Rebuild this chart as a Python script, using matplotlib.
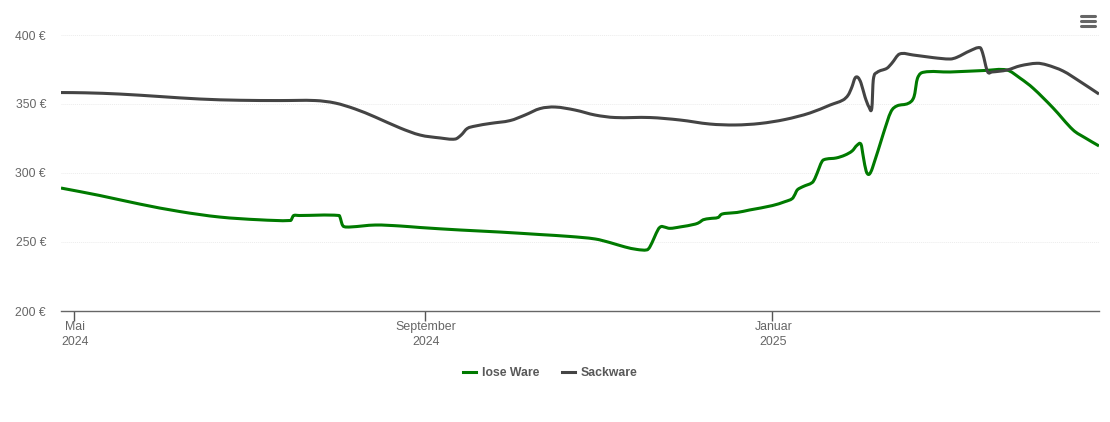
import matplotlib
matplotlib.use("Agg")
import matplotlib.pyplot as plt
import matplotlib.dates as mdates
import matplotlib.transforms as mtransforms
import pandas as pd
from matplotlib.lines import Line2D
from matplotlib.patches import PathPatch
from matplotlib.path import Path

# Tage seit dem 1. Mai 2024, Preise in Euro
startDate = pd.Timestamp("2024-05-01")

looseDays = [-4.6, 9, 23, 37, 51, 65, 76, 76.5, 77, 79, 93, 93.5, 94, 94.6, 97,
             105.6, 114.4, 121.4, 135.4, 149.5, 163.5, 174, 182.8, 188, 193.3,
             197.5, 201, 202, 203.5, 205, 206, 207, 209, 212.6, 218, 219.6,
             220.7, 223, 226, 227, 228.4, 232.6, 237, 245, 249.5, 252, 253,
             253.7, 255.8, 259, 260, 261.4, 262.5, 263.9, 267.4, 270.5, 273,
             274.7, 276.1, 276.9, 277.9, 278.9, 280.1, 284, 286.6, 288.7, 292.7,
             294.7, 295.9, 298, 307.4, 319.6, 327.3, 332, 336.5, 343.5, 350.5,
             354.8, 359.6]
loosePrices = [289.1, 283.7, 277.5, 272.1, 268.1, 266.1, 265.6, 267.4, 269.2,
               269.2, 269.2, 266.7, 263, 261.2, 260.9, 262.3, 261.6, 260.5,
               258.7, 257.2, 255.4, 254, 252.2, 249.6, 246.4, 244.6, 244.3,
               246.4, 252.9, 259.4, 261.2, 260.9, 259.9, 260.9, 263, 264.5,
               266.1, 267, 267.8, 269.9, 270.7, 271.4, 273.2, 276.4, 279.3,
               281.5, 284.8, 287.7, 290.2, 293.1, 296.4, 303.6, 308.7, 310.1,
               310.9, 313, 316, 320.1, 320.8, 311.8, 301.4, 299, 303.6, 329,
               344.4, 348.6, 350.5, 355.3, 368.6, 373, 373.2, 374.3, 374.6,
               368.6, 361.4, 347.1, 331.2, 325.4, 319.6]

sackDays = [-4.6, 3.9, 16.1, 30.2, 44.2, 58.2, 72.3, 84.6, 91.6, 98.6, 105.6,
            114.4, 121.4, 128.4, 133.7, 135.8, 137.9, 140.7, 146, 153, 158.2,
            163.5, 168.8, 175.8, 182.8, 189.8, 202, 212.6, 223, 232, 240.7,
            249.5, 258.2, 265.3, 269.8, 271.6, 272.9, 274, 275, 276.1, 277.5,
            278.9, 279.9, 280.4, 281.6, 285.2, 286.9, 289.6, 294.4, 301.4,
            307.4, 309.7, 314.4, 317.9, 318.8, 320.5, 322, 327.3, 332, 337.8,
            341.3, 347, 353, 359.6]
sackPrices = [358.3, 358.1, 357.2, 355.4, 353.6, 352.7, 352.5, 352.5, 350.7,
              346.4, 340.6, 332.6, 327.5, 325.4, 324.6, 327.5, 332.2, 334,
              335.9, 338, 342, 346.7, 347.8, 345.6, 342, 340.2, 340.2, 338.4,
              335.5, 334.8, 335.9, 338.8, 343.5, 349.3, 352.9, 356.5, 362.3,
              368.8, 369.3, 365.2, 355.1, 347.8, 347.1, 367.4, 372.7, 375.9,
              379.5, 386.2, 385.5, 383.6, 382.6, 383.8, 388.6, 390.8, 386.7,
              373.4, 373.2, 374.6, 377.7, 379.5, 378.3, 373.9, 366.2, 357.2]

yTicks = [200, 250, 300, 350, 400]
xTickDates = ["2024-05-01", "2024-09-01", "2025-01-01"]
xTickLabels = ["Mai\n2024", "September\n2024", "Januar\n2025"]

looseColor = "#007a00"
sackColor = "#444444"

plt.rcParams["font.family"] = ["Liberation Sans", "DejaVu Sans"]

WIDTH, HEIGHT = 1110, 422
fig = plt.figure(figsize=(WIDTH / 100, HEIGHT / 100), dpi=100)
ax = fig.add_axes([61 / WIDTH, 1 - 311 / HEIGHT, 1038 / WIDTH, 276 / HEIGHT])


def toDateNums(days):
    return mdates.date2num(startDate + pd.to_timedelta(days, unit="D"))


def splinePath(days, prices):
    xs = list(toDateNums(days))
    slopes = []
    for i in range(len(xs)):
        left = max(i - 1, 0)
        right = min(i + 1, len(xs) - 1)
        slopes.append((prices[right] - prices[left]) / (xs[right] - xs[left]))
    vertices = [(xs[0], prices[0])]
    codes = [Path.MOVETO]
    for i in range(len(xs) - 1):
        step = (xs[i + 1] - xs[i]) / 3
        vertices.append((xs[i] + step, prices[i] + slopes[i] * step))
        vertices.append((xs[i + 1] - step, prices[i + 1] - slopes[i + 1] * step))
        vertices.append((xs[i + 1], prices[i + 1]))
        codes.extend([Path.CURVE4, Path.CURVE4, Path.CURVE4])
    return Path(vertices, codes)


ax.add_patch(PathPatch(splinePath(looseDays, loosePrices), fill=False,
                       edgecolor=looseColor, lw=2.2, joinstyle="round", zorder=3))
ax.add_patch(PathPatch(splinePath(sackDays, sackPrices), fill=False,
                       edgecolor=sackColor, lw=2.2, joinstyle="round", zorder=4))

ax.set_xlim(toDateNums([-4.6])[0], toDateNums([359.6])[0])
ax.set_ylim(200, 400)

ax.set_yticks(yTicks)
ax.set_yticklabels([f"{v} €" for v in yTicks])
ax.set_xticks(mdates.date2num(pd.to_datetime(xTickDates)))
ax.set_xticklabels(xTickLabels, linespacing=1.25)

ax.tick_params(axis="y", length=0, pad=10.8, labelsize=8.7, labelcolor="#666666")
ax.tick_params(axis="x", length=7, width=1, color="#555555", pad=0.5,
               labelsize=8.95, labelcolor="#666666")

# X-Beschriftung sitzt im Original einen Pixel rechts vom Tick
labelShift = mtransforms.ScaledTranslation(1 / 100, 0, fig.dpi_scale_trans)
for label in ax.get_xticklabels():
    label.set_transform(label.get_transform() + labelShift)

ax.grid(axis="y", color="#ececec", lw=0.7, ls=(0, (1, 1)))
ax.set_axisbelow(True)
for side in ["top", "right", "left"]:
    ax.spines[side].set_visible(False)
ax.spines["bottom"].set_color("#666666")
ax.spines["bottom"].set_linewidth(1)

handles = [Line2D([], [], color=looseColor, lw=2.2, label="lose Ware"),
           Line2D([], [], color=sackColor, lw=2.2, label="Sackware")]
legend = ax.legend(handles=handles, loc="center",
                   bbox_to_anchor=(550 / WIDTH, 1 - 373 / HEIGHT),
                   bbox_transform=fig.transFigure, ncol=2, frameon=False,
                   handlelength=1.1, handletextpad=0.45, columnspacing=1.85,
                   prop={"size": 8.8, "weight": "bold"})
for text in legend.get_texts():
    text.set_color("#595959")

# Menue-Symbol oben rechts
for yPos in [16, 21, 26]:
    fig.add_artist(Line2D([1081 / WIDTH, 1095 / WIDTH],
                          [1 - yPos / HEIGHT, 1 - yPos / HEIGHT],
                          color="#666666", lw=2.2, solid_capstyle="round"))

plt.savefig("out.png", dpi=100)
